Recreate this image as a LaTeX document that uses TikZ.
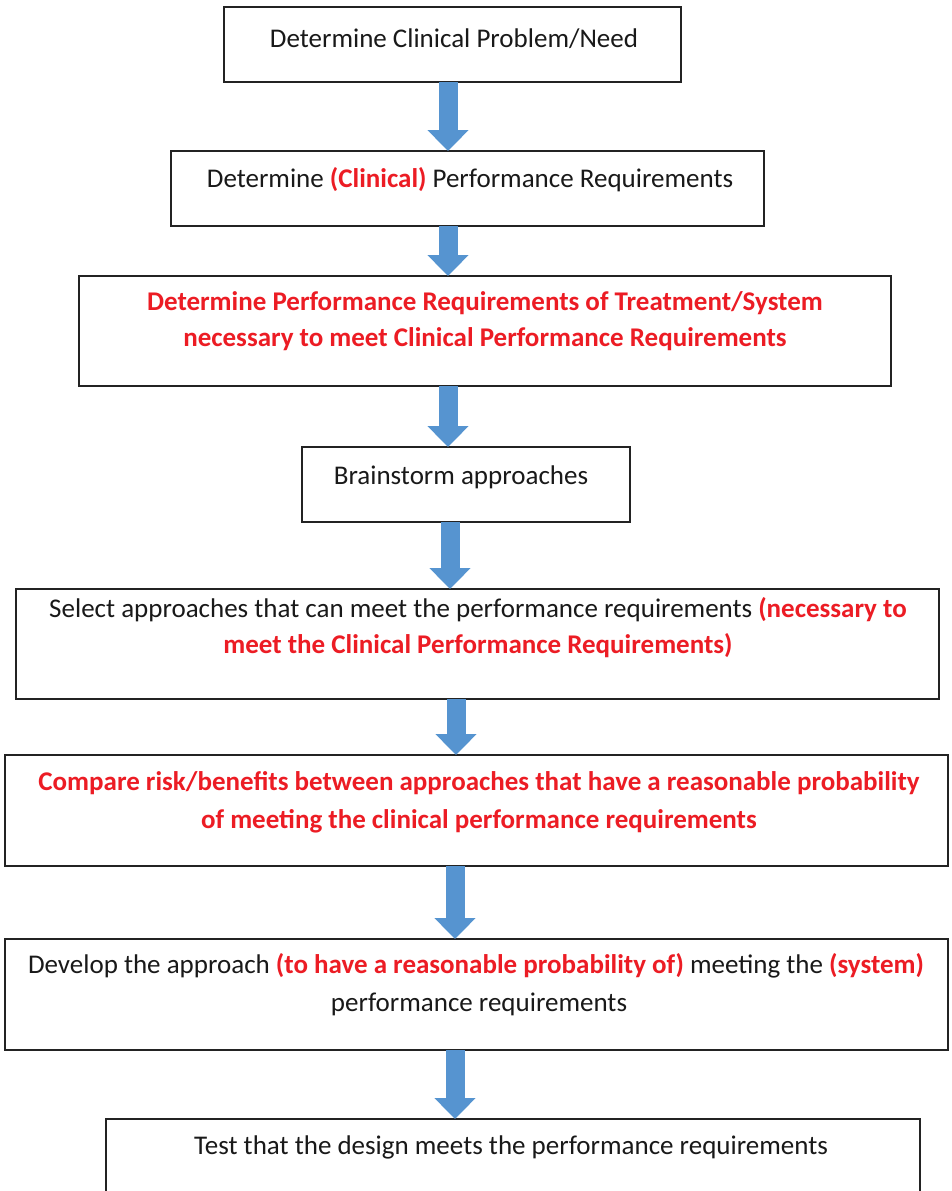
\documentclass[tikz,border=0pt]{standalone}
\usepackage{fontspec}
\setmainfont{Carlito}
\usetikzlibrary{arrows.meta}
\definecolor{txtred}{RGB}{236,28,36}
\definecolor{arrowblue}{RGB}{86,148,208}
\definecolor{boxline}{RGB}{35,35,35}
\newcommand\hl[1]{\textcolor{txtred}{\bfseries #1}}
\begin{document}
\begin{tikzpicture}[x=1pt,y=-1pt,
  box/.style={draw=boxline, line width=1.6pt, rectangle, inner sep=0pt, outer sep=0pt, anchor=north west},
  txt/.style={font=\fontsize{27}{37}\selectfont, text=black!90, anchor=base, inner sep=0pt},
  redtxt/.style={txt, text=txtred, font=\fontsize{27}{37}\selectfont\bfseries},
  flow/.style={draw=arrowblue, line width=19pt, -{Triangle[length=21pt,width=40pt]}}
]
\useasboundingbox (0,0) rectangle (951,1191);
\clip (0,0) rectangle (951,1191);
\fill[white] (0,0) rectangle (951,1191);

% boxes
\node[box, minimum width=457pt, minimum height=75pt] (b1) at (224,7) {};
\node[box, minimum width=593pt, minimum height=75pt] (b2) at (171,151) {};
\node[box, minimum width=812pt, minimum height=110pt] (b3) at (79,276) {};
\node[box, minimum width=328pt, minimum height=75pt] (b4) at (302,447) {};
\node[box, minimum width=923pt, minimum height=110pt] (b5) at (16,589) {};
\node[box, minimum width=943pt, minimum height=111pt] (b6) at (5,755) {};
\node[box, minimum width=943pt, minimum height=111pt] (b7) at (5,939) {};
\node[box, minimum width=814pt, minimum height=110pt] (b8) at (106,1119) {};

% texts
\node[txt] (t1) at (454,47) {Determine Clinical Problem/Need};
\node[txt] (t2) at (470,187) {Determine \hl{(Clinical)} Performance Requirements};
\node[redtxt] (t3a) at (485,310) {Determine Performance Requirements of Treatment/System};
\node[redtxt] (t3b) at (485,346) {necessary to meet Clinical Performance Requirements};
\node[txt] (t4) at (461,484) {Brainstorm approaches};
\node[txt] (t5a) at (478,617) {Select approaches that can meet the performance requirements \hl{(necessary to}};
\node[redtxt] (t5b) at (478,653) {meet the Clinical Performance Requirements)};
\node[redtxt] (t6a) at (479,790) {Compare risk/benefits between approaches that have a reasonable probability};
\node[redtxt] (t6b) at (479,828) {of meeting the clinical performance requirements};
\node[txt] (t7a) at (476,973) {Develop the approach \hl{(to have a reasonable probability of)} meeting the \hl{(system)}};
\node[txt] (t7b) at (479,1011) {performance requirements};
\node[txt] (t8) at (511,1154) {Test that the design meets the performance requirements};

% arrows
\draw[flow] (b1.south -| 448,0) -- (b2.north -| 448,0);
\draw[flow] (b2.south -| 448,0) -- (b3.north -| 448,0);
\draw[flow] (b3.south -| 448,0) -- (b4.north -| 448,0);
\draw[flow] (b4.south -| 450,0) -- (b5.north -| 450,0);
\draw[flow] (b5.south -| 456,0) -- (b6.north -| 456,0);
\draw[flow] (b6.south -| 455,0) -- (b7.north -| 455,0);
\draw[flow] (b7.south -| 455,0) -- (b8.north -| 455,0);
\end{tikzpicture}
\end{document}
